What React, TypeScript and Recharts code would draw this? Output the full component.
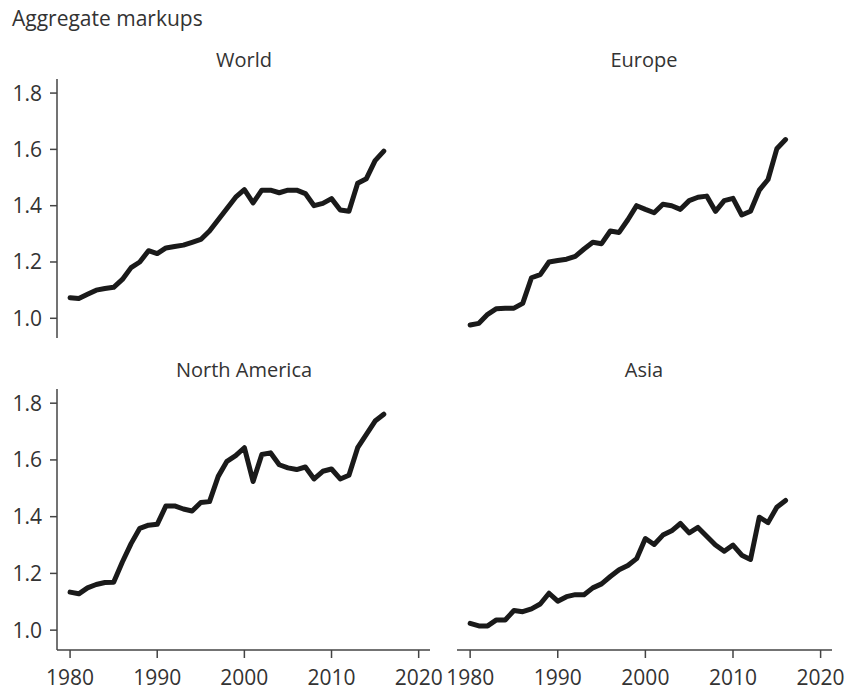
import { LineChart, Line, XAxis, YAxis } from 'recharts';

const years = [
  1980, 1981, 1982, 1983, 1984, 1985, 1986, 1987, 1988, 1989,
  1990, 1991, 1992, 1993, 1994, 1995, 1996, 1997, 1998, 1999,
  2000, 2001, 2002, 2003, 2004, 2005, 2006, 2007, 2008, 2009,
  2010, 2011, 2012, 2013, 2014, 2015, 2016,
];

const world = [
  1.073, 1.07, 1.085, 1.1, 1.106, 1.11, 1.138, 1.18, 1.2, 1.24,
  1.23, 1.25, 1.255, 1.26, 1.27, 1.28, 1.31, 1.35, 1.39, 1.43,
  1.457, 1.41, 1.455, 1.455, 1.446, 1.455, 1.455, 1.443, 1.4, 1.408,
  1.425, 1.385, 1.38, 1.48, 1.496, 1.56, 1.594,
];

const europe = [
  0.976, 0.982, 1.014, 1.034, 1.036, 1.036, 1.053, 1.144, 1.155, 1.2,
  1.205, 1.21, 1.22, 1.246, 1.27, 1.265, 1.31, 1.305, 1.35, 1.4,
  1.387, 1.375, 1.405, 1.4, 1.387, 1.418, 1.43, 1.434, 1.38, 1.418,
  1.426, 1.367, 1.38, 1.455, 1.493, 1.602, 1.635,
];

const northAmerica = [
  1.134, 1.128, 1.149, 1.161, 1.168, 1.169, 1.24, 1.305, 1.359, 1.37,
  1.373, 1.438, 1.438, 1.427, 1.42, 1.45, 1.453, 1.542, 1.595, 1.615,
  1.643, 1.524, 1.619, 1.625, 1.583, 1.572, 1.566, 1.575, 1.533, 1.56,
  1.568, 1.533, 1.546, 1.643, 1.69, 1.737, 1.761,
];

const asia = [
  1.024, 1.015, 1.015, 1.036, 1.036, 1.069, 1.065, 1.075, 1.092, 1.13,
  1.102, 1.118, 1.125, 1.125, 1.149, 1.163, 1.189, 1.213, 1.228, 1.252,
  1.323, 1.302, 1.335, 1.35, 1.376, 1.343, 1.362, 1.331, 1.3, 1.278,
  1.3, 1.264, 1.249, 1.398, 1.379, 1.433, 1.457,
];

const xTicks = [1980, 1990, 2000, 2010, 2020];
const yTicks = [1.0, 1.2, 1.4, 1.6, 1.8];

const TEXT = '#333';
const AXIS = '#444';

type PanelProps = {
  title: string;
  values: number[];
  left: number;
  top: number;
  showX: boolean;
  showY: boolean;
};

const Panel = ({ title, values, left, top, showX, showY }: PanelProps) => {
  const data = years.map((year, i) => ({ year, value: values[i] }));
  const width = showY ? 446 : 405;
  const height = showX ? 313 : 280;
  const margin = showY
    ? { top: 9, right: 16, left: 0, bottom: showX ? 8 : 12 }
    : { top: 9, right: 13, left: 17, bottom: showX ? 8 : 12 };

  return (
    <div style={{ position: 'absolute', left, top, width, height }}>
      <div
        style={{
          position: 'absolute',
          left: showY ? 57 : 17,
          width: 374,
          top: -22,
          textAlign: 'center',
          fontSize: 20,
          color: TEXT,
          lineHeight: '24px',
        }}
      >
        {title}
      </div>
      <LineChart width={width} height={height} data={data} margin={margin}>
        <XAxis
          dataKey="year"
          type="number"
          domain={[1978.5, 2021.3]}
          ticks={xTicks}
          hide={!showX}
          height={35}
          stroke={AXIS}
          strokeWidth={1.5}
          tickSize={8}
          tickMargin={12}
          tick={{ fill: TEXT, fontSize: 21 }}
          allowDataOverflow
        />
        <YAxis
          type="number"
          domain={[0.93, 1.85]}
          ticks={yTicks}
          hide={!showY}
          width={57}
          stroke={AXIS}
          strokeWidth={1.5}
          tickSize={7}
          tickMargin={8}
          tick={{ fill: TEXT, fontSize: 21 }}
          tickFormatter={(v: number) => v.toFixed(1)}
          allowDataOverflow
        />
        <Line
          type="linear"
          dataKey="value"
          stroke="#1a1a1a"
          strokeWidth={5}
          strokeLinejoin="round"
          strokeLinecap="round"
          dot={false}
          isAnimationActive={false}
        />
      </LineChart>
    </div>
  );
};

export default function App() {
  return (
    <div
      style={{
        position: 'absolute',
        left: 0,
        top: 0,
        width: 845,
        height: 693,
        background: '#fff',
        fontFamily: '"Open Sans", sans-serif',
      }}
    >
      <div style={{ position: 'absolute', left: 12, top: 4, fontSize: 21, color: TEXT }}>
        Aggregate markups
      </div>
      <Panel title="World" values={world} left={0} top={70} showX={false} showY />
      <Panel title="Europe" values={europe} left={440} top={70} showX={false} showY={false} />
      <Panel title="North America" values={northAmerica} left={0} top={380} showX showY />
      <Panel title="Asia" values={asia} left={440} top={380} showX showY={false} />
    </div>
  );
}
